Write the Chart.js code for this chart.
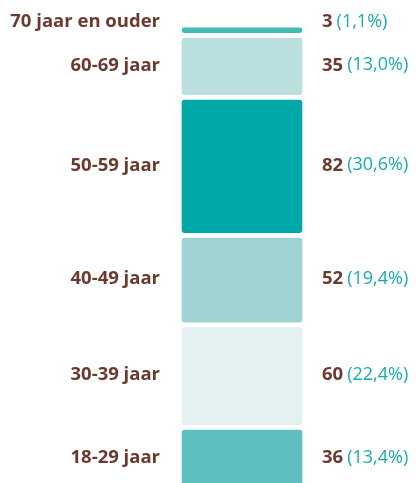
<!DOCTYPE html>
<html>
<head>
<meta charset="utf-8">
<script src="https://cdn.jsdelivr.net/npm/chart.js@4/dist/chart.umd.min.js"></script>
<style>
  html, body { margin: 0; padding: 0; background: #fff; }
  #wrap { width: 418px; height: 483px; position: relative; }
</style>
</head>
<body>
<div id="wrap"><canvas id="myChart"></canvas></div>
<script>
// data, from top to bottom as in the picture
const ageGroups = ["70 jaar en ouder", "60-69 jaar", "50-59 jaar", "40-49 jaar", "30-39 jaar", "18-29 jaar"];
const counts = [3, 35, 82, 52, 60, 36];
const percentLabels = ["(1,1%)", "(13,0%)", "(30,6%)", "(19,4%)", "(22,4%)", "(13,4%)"];
const segmentColors = ["#45b9b6", "#b9e0df", "#00a8a7", "#9fd3d4", "#e3f2f1", "#5ebfbe"];

const GAP = 3.34; // white space between the blocks, in value units
const BROWN = "#6b3a2f";
const TEAL = "#1aabab";
const FONT = "'Open Sans', sans-serif";

// stack from the bottom up, leaving a small gap between blocks
let cursor = 0;
const ranges = [];
for (let i = counts.length - 1; i >= 0; i--) {
  ranges[i] = [cursor, cursor + counts[i]];
  cursor += counts[i] + GAP;
}

const datasets = ageGroups.map((name, i) => ({
  label: name,
  data: [ranges[i]],
  backgroundColor: segmentColors[i],
  borderRadius: 3,
  borderSkipped: false,
  borderWidth: 0,
  grouped: false,
  barThickness: 120,
}));

//draw the labels left and right of every block
const sideLabels = {
  id: "sideLabels",
  afterDatasetsDraw(chart) {
    const ctx = chart.ctx;
    ctx.save();
    ctx.textBaseline = "middle";
    chart.data.datasets.forEach((ds, i) => {
      const bar = chart.getDatasetMeta(i).data[0];
      const top = Math.min(bar.y, bar.base);
      const bottom = Math.max(bar.y, bar.base);
      let y = (top + bottom) / 2 - 1;
      if (bottom - top < 20) y = top - 6;

      ctx.font = "bold 18.5px " + FONT;
      ctx.fillStyle = BROWN;
      ctx.textAlign = "right";
      ctx.fillText(ageGroups[i], 160, y);

      ctx.textAlign = "left";
      const num = String(counts[i]);
      ctx.fillText(num, 322, y);
      const w = ctx.measureText(num).width + 4;
      ctx.font = "18px " + FONT;
      ctx.fillStyle = TEAL;
      ctx.fillText(percentLabels[i], 322 + w, y);
    });
    ctx.restore();
  },
};

new Chart(document.getElementById("myChart"), {
  type: "bar",
  data: { labels: ["leeftijd"], datasets: datasets },
  options: {
    responsive: true,
    maintainAspectRatio: false,
    animation: false,
    layout: { padding: { left: 66, right: 0, top: 0, bottom: 0 } },
    scales: {
      x: { display: false },
      y: { display: false, min: 3.23, max: 301.86 },
    },
    plugins: {
      legend: { display: false },
      tooltip: { enabled: false },
    },
  },
  plugins: [sideLabels],
});
</script>
</body>
</html>
